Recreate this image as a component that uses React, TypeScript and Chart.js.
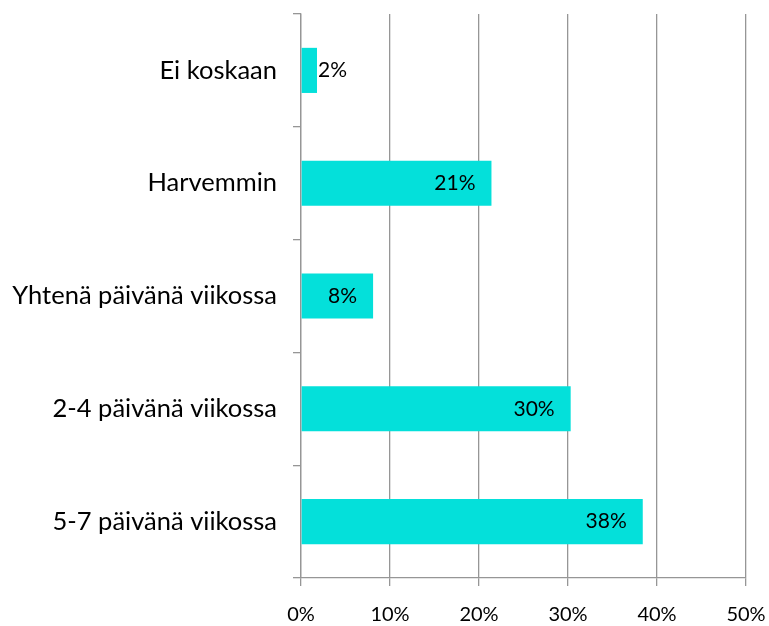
import React, { useEffect, useRef } from "react";
import { Chart, registerables } from "chart.js";

Chart.register(...registerables);

const categories = [
  "Ei koskaan",
  "Harvemmin",
  "Yhtenä päivänä viikossa",
  "2-4 päivänä viikossa",
  "5-7 päivänä viikossa",
];
const values = [1.8, 21.4, 8.1, 30.3, 38.4];
const xTicks = [0, 10, 20, 30, 40, 50];

const FONT = "Lato, 'Open Sans', sans-serif";

const labelPlugin = {
  id: "barLabels",
  afterDatasetsDraw(chart: any) {
    const ctx = chart.ctx;
    const meta = chart.getDatasetMeta(0);
    ctx.save();
    ctx.font = `21px ${FONT}`;
    ctx.fillStyle = "#000";
    ctx.textBaseline = "middle";
    meta.data.forEach((bar: any, i: number) => {
      const text = Math.round(values[i]) + "%";
      const w = ctx.measureText(text).width;
      const barW = bar.x - bar.base;
      if (barW < w + 16) {
        ctx.textAlign = "left";
        ctx.fillText(text, bar.x + 1, bar.y);
      } else {
        ctx.textAlign = "right";
        ctx.fillText(text, bar.x - 16, bar.y);
      }
    });
    ctx.restore();
  },
};

export default function App() {
  const ref = useRef<HTMLCanvasElement>(null);
  useEffect(() => {
    if (!ref.current) return;
    const chart = new Chart(ref.current, {
      type: "bar",
      data: {
        labels: categories,
        datasets: [
          {
            data: values,
            backgroundColor: "#04E0DA",
            barPercentage: 0.4,
            categoryPercentage: 1,
          },
        ],
      },
      options: {
        indexAxis: "y",
        animation: false,
        responsive: false,
        layout: { padding: { top: 14, right: 23, left: 0, bottom: 0 } },
        plugins: { legend: { display: false }, tooltip: { enabled: false } },
        scales: {
          x: {
            min: 0,
            max: 50,
            afterBuildTicks: (scale: any) => {
              scale.ticks = xTicks.map((v) => ({ value: v }));
            },
            afterFit: (scale: any) => {
              scale.height = 48;
              scale.paddingLeft = 0;
              scale.paddingRight = 0;
            },
            grid: {
              color: "#969696",
              lineWidth: 1.3,
              tickLength: 8,
            },
            border: { color: "#969696", width: 1.3 },
            ticks: {
              padding: 17,
              color: "#000",
              font: { family: FONT, size: 20 },
              callback: (v: any) => v + "%",
            },
          },
          y: {
            afterFit: (scale: any) => {
              scale.width = 301;
              scale.paddingTop = 0;
              scale.paddingBottom = 0;
            },
            grid: {
              drawOnChartArea: false,
              color: "#969696",
              lineWidth: 1.3,
              tickLength: 8,
              offset: true,
            },
            border: { color: "#969696", width: 1.3 },
            ticks: {
              padding: 16,
              color: "#000",
              font: { family: FONT, size: 25.5 },
            },
          },
        },
      },
      plugins: [labelPlugin],
    });
    return () => chart.destroy();
  }, []);
  return (
    <div style={{ position: "fixed", left: 0, top: 0, width: 769, height: 626, background: "#fff" }}>
      <canvas ref={ref} width={769} height={626} style={{ display: "block" }} />
    </div>
  );
}
